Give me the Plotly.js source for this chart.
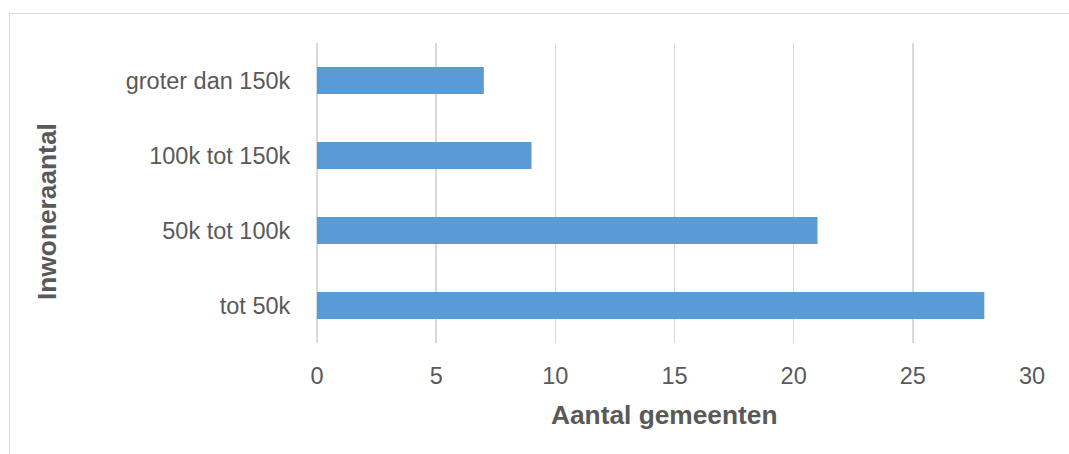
<!DOCTYPE html>
<html>
<head>
<meta charset="utf-8">
<script src="https://cdn.plot.ly/plotly-3.0.1.min.js"></script>
<style>
  html, body { margin: 0; padding: 0; background: #ffffff; overflow: hidden; }
  #chart { position: absolute; left: 0; top: 0; width: 1069px; height: 454px; }
  #frame {
    position: absolute; left: 9px; top: 13px; width: 1100px; height: 500px;
    border: 1.5px solid #D9D9D9; pointer-events: none;
  }
</style>
</head>
<body>
<div id="frame"></div>
<div id="chart"></div>
<script>
// Number of municipalities per population class
const categories = ['tot 50k', '50k tot 100k', '100k tot 150k', 'groter dan 150k'];
const municipalities = [28, 21, 9, 7];
const xTickValues = [0, 5, 10, 15, 20, 25, 30];
const xTitle = 'Aantal gemeenten';
const yTitle = 'Inwoneraantal';

const textColor = '#595959';
const gridColor = '#D9D9D9';
const fontFamily = '"Liberation Sans", Arial, sans-serif';

const trace = {
  type: 'bar',
  orientation: 'h',
  y: categories,
  x: municipalities,
  marker: { color: '#5B9BD5' },
  hoverinfo: 'x+y'
};

const layout = {
  width: 1069,
  height: 454,
  margin: { l: 317, r: 37, t: 43, b: 111, pad: 0 },
  paper_bgcolor: 'rgba(0,0,0,0)',
  plot_bgcolor: 'rgba(0,0,0,0)',
  bargap: 0.64,
  showlegend: false,
  font: { family: fontFamily, color: textColor, size: 23.5 },
  xaxis: {
    range: [0, 30],
    tickvals: xTickValues,
    ticktext: xTickValues.map(String),
    showgrid: true,
    gridcolor: gridColor,
    gridwidth: 1.4,
    zeroline: true,
    zerolinecolor: gridColor,
    zerolinewidth: 1.4,
    showline: false,
    ticks: 'outside',
    ticklen: 12,
    tickcolor: 'rgba(0,0,0,0)',
    tickfont: { family: fontFamily, size: 23.5, color: textColor },
    fixedrange: true
  },
  yaxis: {
    type: 'category',
    categoryorder: 'array',
    categoryarray: categories,
    showgrid: false,
    zeroline: false,
    showline: false,
    ticks: 'outside',
    ticklen: 21,
    tickcolor: 'rgba(0,0,0,0)',
    tickfont: { family: fontFamily, size: 23.5, color: textColor },
    fixedrange: true
  },
  annotations: [
    {
      text: '<b>' + xTitle + '</b>',
      xref: 'paper', yref: 'paper',
      x: (664 - 317) / (1032 - 317), y: -(415 - 343) / 300,
      xanchor: 'center', yanchor: 'middle',
      showarrow: false,
      font: { family: fontFamily, size: 26.3, color: textColor }
    },
    {
      text: '<b>' + yTitle + '</b>',
      xref: 'paper', yref: 'paper',
      x: -(317 - 47) / (1032 - 317), y: (343 - 212) / 300,
      xanchor: 'center', yanchor: 'middle',
      textangle: -90,
      showarrow: false,
      font: { family: fontFamily, size: 26.3, color: textColor }
    }
  ]
};

Plotly.newPlot('chart', [trace], layout, { displayModeBar: false, staticPlot: true });
</script>
</body>
</html>
